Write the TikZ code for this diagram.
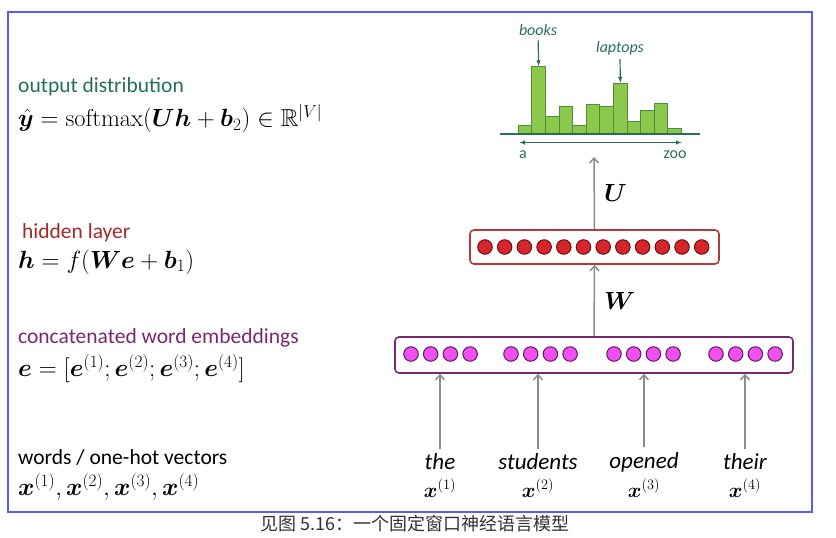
\documentclass[tikz,border=0pt]{standalone}
\usepackage{amsmath,amssymb,bm}
\usepackage{fontspec}
\usetikzlibrary{arrows.meta,positioning}
\newfontfamily\labfont{Carlito}
\newfontfamily\cjkfont{Noto Sans CJK SC}
\definecolor{framecol}{HTML}{5B5BF5}
\definecolor{outcol}{HTML}{276E5E}
\definecolor{hidcol}{HTML}{A5282A}
\definecolor{hidedge}{HTML}{B23A3A}
\definecolor{hidfill}{HTML}{D7262B}
\definecolor{hiddark}{HTML}{6E1010}
\definecolor{embcol}{HTML}{7A2670}
\definecolor{embfill}{HTML}{F050F0}
\definecolor{embdark}{HTML}{5E1A5E}
\definecolor{barfill}{HTML}{8CC84B}
\definecolor{baredge}{HTML}{4F8F3A}
\definecolor{arrowgray}{HTML}{8C8C8C}
\definecolor{capcol}{HTML}{333333}
\tikzset{
  lab/.style={font=\labfont\fontsize{21.5}{24}\selectfont, anchor=west, inner sep=0},
  eqn/.style={font=\fontsize{24.5}{28}\selectfont, anchor=west, inner sep=0},
  layerbox/.style={draw, rounded corners=4pt, line width=1.6pt, fill=white},
  embunit/.style={circle, draw=embdark, fill=embfill, line width=1pt, minimum size=14.5pt, inner sep=0},
  hidunit/.style={circle, draw=hiddark, fill=hidfill, line width=1pt, minimum size=14.5pt, inner sep=0},
  uparrow/.style={-{Straight Barb[length=5pt,width=9pt]}, line width=1.5pt, draw=arrowgray},
  wordlab/.style={font=\labfont\itshape\fontsize{23}{26}\selectfont, inner sep=0},
  xlab/.style={font=\fontsize{22}{26}\selectfont, inner sep=0},
  wtlab/.style={font=\fontsize{24}{28}\selectfont, inner sep=0},
  histlab/.style={font=\labfont\fontsize{16}{18}\selectfont, text=outcol, inner sep=0},
  bar/.style={draw=baredge, fill=barfill, line width=1pt},
  histarrow/.style={-{Latex[length=6pt]}, line width=1.2pt, draw=outcol}
}
\begin{document}
\begin{tikzpicture}[x=1pt, y=-1pt]
  \useasboundingbox (0,0) rectangle (836,538);
  \draw[framecol, line width=1.8pt] (8,12) rectangle (812,512);
  \node[font=\cjkfont\fontsize{18}{20}\selectfont, text=capcol, anchor=west] (caption) at (257,524) {见图 5.16：一个固定窗口神经语言模型};

  % left column: labels and equations
  \node[lab, text=outcol] (outlab) at (18,87) {output distribution};
  \node[eqn] (outeq) at (18,119) {$\hat{\bm y} = \mathrm{softmax}(\bm U\bm h + \bm b_2) \in \mathbb{R}^{|V|}$};
  \node[lab, text=hidcol] (hidlab) at (22,233) {hidden layer};
  \node[eqn] (hideq) at (18,262) {$\bm h = f(\bm W\bm e + \bm b_1)$};
  \node[lab, text=embcol] (emblab) at (18,338) {concatenated word embeddings};
  \node[eqn] (embeq) at (18,369) {$\bm e = [\bm e^{(1)}; \bm e^{(2)}; \bm e^{(3)}; \bm e^{(4)}]$};
  \node[lab] (wordlab) at (18,457) {words / one-hot vectors};
  \node[eqn] (wordeq) at (18,487) {$\bm x^{(1)}, \bm x^{(2)}, \bm x^{(3)}, \bm x^{(4)}$};

  % layers
  \node[layerbox, draw=embcol, minimum width=398pt, minimum height=36pt] (emb) at (594,355) {};
  \foreach \g/\gx in {0/411,1/511,2/614,3/716}
    \foreach \k in {0,...,3}
      \node[embunit] (e\g\k) at (\gx+\k*19.7,354) {};
  \node[layerbox, draw=hidedge, minimum width=249pt, minimum height=34pt] (hid) at (594.5,247) {};
  \foreach \k in {0,...,11}
    \node[hidunit] (h\k) at (485+\k*19.7,247) {};

  % input words
  \foreach \i/\wx/\w in {1/440/the, 2/538/students, 3/644/opened, 4/745/their} {
    \node[wordlab] (w\i) at (\wx,462) {\w};
    \node[xlab] (x\i) at (\wx,488) {$\bm x^{(\i)}$};
    \draw[uparrow, shorten <=5pt] (w\i.north) -- (w\i.north |- emb.south);
  }

  \draw[uparrow] (emb.north) -- (hid.south) node[wtlab, midway, right=9pt] (wlab) {$\bm W$};
  \coordinate (histin) at (594,157);
  \draw[uparrow] (hid.north) -- (histin) node[wtlab, midway, right=9pt] (ulab) {$\bm U$};

  % output histogram
  \foreach \i/\h in {1/8.6, 2/67.6, 3/17.6, 4/28, 5/8.6, 6/30, 7/28, 8/51, 9/13, 10/23.3, 11/31, 12/5.6} {
    \draw[bar] (518.3+\i*13.6-13.6,134) rectangle (518.3+\i*13.6,134-\h);
    \coordinate (bar\i) at (518.3+\i*13.6-6.8,134-\h);
  }
  \coordinate (axl) at (500,134);
  \coordinate (axr) at (700,134);
  \draw[outcol, line width=1.5pt] (axl) -- (axr);
  \coordinate (rngl) at (519,142.5);
  \coordinate (rngr) at (682,142.5);
  \draw[histarrow, {Latex[length=6pt]}-{Latex[length=6pt]}] (rngl) -- (rngr);
  \node[histlab] (first) at (523,155) {a};
  \node[histlab] (last) at (675,155) {zoo};
  \node[histlab, font=\labfont\itshape\fontsize{16}{18}\selectfont] (books) at (538,30) {books};
  \node[histlab, font=\labfont\itshape\fontsize{16}{18}\selectfont] (laptops) at (620,48) {laptops};
  \draw[histarrow, shorten <=4pt] (books.south) -- (bar2);
  \draw[histarrow, shorten <=4pt] (laptops.south) -- (bar8);
\end{tikzpicture}
\end{document}
